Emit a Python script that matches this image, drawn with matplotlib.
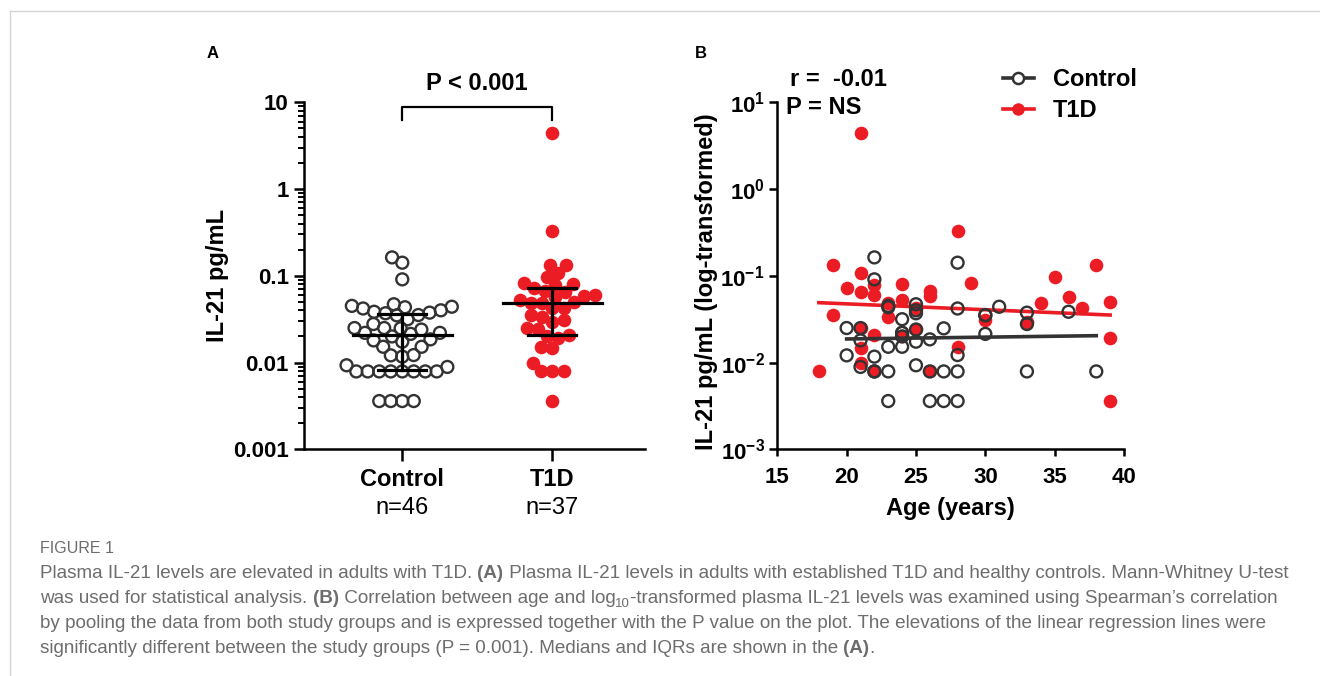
import numpy as np
import matplotlib
matplotlib.use("Agg")
import matplotlib.pyplot as plt
from matplotlib.lines import Line2D
from matplotlib.transforms import IdentityTransform

plt.rcParams['font.family'] = ['Liberation Sans', 'DejaVu Sans']
plt.rcParams['mathtext.fontset'] = 'custom'
plt.rcParams['mathtext.bf'] = 'Liberation Sans:bold'
plt.rcParams['mathtext.rm'] = 'Liberation Sans'

# --- data (age in years, IL-21 in pg/mL) ---
control_age = [20, 20, 21, 21, 21, 22, 22, 22, 22, 22,
               23, 23, 23, 23, 23, 24, 24, 24, 24, 24,
               25, 25, 25, 25, 25, 25, 26, 26, 26, 27,
               27, 27, 28, 28, 28, 28, 28, 30, 30, 30,
               31, 33, 33, 33, 36, 38]
control_il21 = [0.025, 0.0121, 0.025, 0.018, 0.0089, 0.163, 0.091, 0.0117, 0.0079, 0.0079,
                0.0434, 0.045, 0.0152, 0.0079, 0.0036, 0.0316, 0.022, 0.022, 0.020, 0.0152,
                0.047, 0.040, 0.037, 0.024, 0.0174, 0.0093, 0.0185, 0.0079, 0.0036, 0.0248,
                0.0079, 0.0036, 0.1416, 0.042, 0.0122, 0.0079, 0.0036, 0.0353, 0.035, 0.0214,
                0.044, 0.0376, 0.0278, 0.0079, 0.0385, 0.0079]

t1d_age = [18, 19, 19, 20, 21, 21, 21, 21, 21, 21,
           22, 22, 22, 22, 23, 23, 24, 24, 24, 25,
           25, 26, 26, 26, 28, 28, 29, 30, 33, 34,
           35, 36, 37, 38, 39, 39, 39]
t1d_il21 = [0.0079, 0.133, 0.0353, 0.073, 4.47, 0.108, 0.0645, 0.025, 0.0146, 0.0100,
            0.078, 0.060, 0.0207, 0.0079, 0.049, 0.0338, 0.081, 0.0525, 0.020, 0.042,
            0.0245, 0.066, 0.058, 0.0079, 0.33, 0.0152, 0.082, 0.031, 0.0296, 0.049,
            0.098, 0.0565, 0.043, 0.133, 0.050, 0.019, 0.0036]

# regression lines (end points)
fit_ctrl_age = [20, 38]
fit_ctrl_val = [0.0187, 0.0204]
fit_t1d_age = [18, 39]
fit_t1d_val = [0.049, 0.0353]

groups = ['Control', 'T1D']
group_n = ['n=46', 'n=37']
log_ticks_a = [0.001, 0.01, 0.1, 1, 10]
log_labels_a = ['0.001', '0.01', '0.1', '1', '10']
age_ticks = [15, 20, 25, 30, 35, 40]

RED = '#ec1c24'
DARK = '#333333'
W, H = 1320, 676


def swarm(ax, center, vals, spacing=10.0):
    """beeswarm x positions (data units) for values on a log axis"""
    tr = ax.transData
    ypx = tr.transform(np.column_stack([np.full(len(vals), center), vals]))[:, 1]
    px_per_unit = tr.transform((1, 1))[0] - tr.transform((0, 1))[0]
    xs = np.zeros(len(vals))
    placed = []
    for i in np.argsort(ypx):
        y = ypx[i]
        cands = [0.0]
        for (px, py) in placed:
            dy = abs(y - py)
            if dy < spacing:
                dx = np.sqrt(spacing**2 - dy**2)
                cands += [px - dx, px + dx]
        cands.sort(key=abs)
        for c in cands:
            if all((c - px)**2 + (y - py)**2 >= spacing**2 - 1e-6 for px, py in placed):
                xs[i] = c
                break
        placed.append((xs[i], y))
    return center + xs / px_per_unit


def style_axes(ax):
    for s in ['top', 'right']:
        ax.spines[s].set_visible(False)
    for s in ['left', 'bottom']:
        ax.spines[s].set_linewidth(1.8)


fig = plt.figure(figsize=(W / 100, H / 100), dpi=100)

# ---------------- panel A ----------------
ax1 = fig.add_axes([304 / W, 1 - 449.3 / H, 341 / W, 347 / H])
ax1.set_yscale('log')
ax1.set_ylim(0.001, 10)
ax1.set_xlim(-0.655, 1.618)
style_axes(ax1)

xc = swarm(ax1, 0, control_il21, spacing=11.5)
xt = swarm(ax1, 1, t1d_il21, spacing=11.5)
ax1.scatter(xc, control_il21, s=74, facecolors='none', edgecolors=DARK, linewidths=1.7, zorder=3)
ax1.scatter(xt, t1d_il21, s=96, color=RED, linewidths=0, zorder=3)

for k, vals in enumerate([control_il21, t1d_il21]):
    q1, med, q3 = np.percentile(vals, [25, 50, 75])
    ax1.plot([k - 0.33, k + 0.33], [med, med], color='k', lw=2.3, zorder=4)
    ax1.plot([k - 0.16, k + 0.16], [q1, q1], color='k', lw=2.3, zorder=4)
    ax1.plot([k - 0.16, k + 0.16], [q3, q3], color='k', lw=2.3, zorder=4)
    ax1.plot([k, k], [q1, q3], color='k', lw=2.3, zorder=4)

ax1.set_yticks(log_ticks_a)
ax1.set_yticklabels(log_labels_a, fontweight='bold')
ax1.tick_params(axis='y', which='major', length=7, width=1.8, labelsize=16, pad=4)
ax1.tick_params(axis='y', which='minor', length=4, width=1.4)
ax1.set_xticks([0, 1])
ax1.set_xticklabels([])
ax1.tick_params(axis='x', length=8.5, width=1.8)
for k in range(2):
    ax1.text(k, -0.088, groups[k], transform=ax1.get_xaxis_transform(),
             ha='center', va='center', fontsize=17, fontweight='bold')
    ax1.text(k, -0.169, group_n[k], transform=ax1.get_xaxis_transform(),
             ha='center', va='center', fontsize=17)
ax1.set_ylabel('IL-21 pg/mL', fontsize=17, fontweight='bold')
ax1.yaxis.set_label_coords(-0.22, 0.5)

# significance bracket
ax1.plot([0, 0, 1, 1], [6.25, 8.9, 8.9, 6.25], color='k', lw=1.6, clip_on=False)
ax1.text(0.5, 16.6, 'P < 0.001', ha='center', va='center', fontsize=17, fontweight='bold')

# ---------------- panel B ----------------
ax2 = fig.add_axes([777.3 / W, 1 - 449.3 / H, 346.7 / W, 347 / H])
ax2.set_yscale('log')
ax2.set_ylim(0.001, 10)
ax2.set_xlim(15, 40)
style_axes(ax2)

ax2.scatter(t1d_age, t1d_il21, s=96, color=RED, linewidths=0, zorder=2)
ax2.plot(fit_t1d_age, fit_t1d_val, color=RED, lw=2.6, zorder=3)
ax2.scatter(control_age, control_il21, s=74, facecolors='none', edgecolors=DARK, linewidths=1.7, zorder=4)
ax2.plot(fit_ctrl_age, fit_ctrl_val, color=DARK, lw=2.6, zorder=5)

ax2.set_yticks(log_ticks_a)
ax2.set_yticklabels([r'$\mathbf{10^{%d}}$' % e for e in range(-3, 2)])
ax2.yaxis.set_minor_locator(matplotlib.ticker.NullLocator())
ax2.tick_params(axis='y', length=6, width=1.8, labelsize=16, pad=3)
ax2.set_xticks(age_ticks)
ax2.set_xticklabels([str(a) for a in age_ticks], fontweight='bold')
ax2.tick_params(axis='x', length=5, width=1.8, labelsize=16, pad=8)
ax2.set_xlabel('Age (years)', fontsize=17, fontweight='bold', labelpad=6)
ax2.set_ylabel('IL-21 pg/mL (log-transformed)', fontsize=17, fontweight='bold')
ax2.yaxis.set_label_coords(-0.171, 0.483)

fig.text(790 / W, 1 - 79 / H, 'r =  -0.01', ha='left', va='center', fontsize=17, fontweight='bold')
fig.text(785.7 / W, 1 - 107.7 / H, 'P = NS', ha='left', va='center', fontsize=17, fontweight='bold')

handles = [Line2D([], [], color=DARK, lw=2.6, marker='o', mfc='white', mec=DARK, mew=1.8, ms=8),
           Line2D([], [], color=RED, lw=2.6, marker='o', mfc=RED, mec=RED, ms=8)]
ax2.legend(handles, groups, loc='upper left', bbox_to_anchor=(1003 / W, 1 - 68 / H),
           bbox_transform=fig.transFigure, frameon=False, borderpad=0, borderaxespad=0,
           handlelength=1.3, handletextpad=0.8, labelspacing=0.35,
           prop={'weight': 'bold', 'size': 17})

# panel letters
fig.text(213 / W, 1 - 53 / H, 'A', ha='center', va='center', fontsize=12, fontweight='bold')
fig.text(701 / W, 1 - 53 / H, 'B', ha='center', va='center', fontsize=12, fontweight='bold')

# page frame
fig.add_artist(Line2D([9.5 / W, 9.5 / W], [0, 1 - 11 / H], transform=fig.transFigure, color='#d4d4d4', lw=1))
fig.add_artist(Line2D([9.5 / W, 1], [1 - 11 / H, 1 - 11 / H], transform=fig.transFigure, color='#d4d4d4', lw=1))

# ---------------- caption ----------------
CAP = '#6d6d6d'
CAP_FONT = ['Liberation Sans', 'DejaVu Sans']
caption = [
    [("Plasma IL-21 levels are elevated in adults with T1D. ", 'n'), ("(A)", 'b'),
     (" Plasma IL-21 levels in adults with established T1D and healthy controls. Mann-Whitney U-test", 'n')],
    [("was used for statistical analysis. ", 'n'), ("(B)", 'b'), (" Correlation between age and log", 'n'),
     ("10", 's'), ("-transformed plasma IL-21 levels was examined using Spearman\u2019s correlation", 'n')],
    [("by pooling the data from both study groups and is expressed together with the P value on the plot. "
      "The elevations of the linear regression lines were", 'n')],
    [("significantly different between the study groups (P = 0.001). Medians and IQRs are shown in the ", 'n'),
     ("(A)", 'b'), (".", 'n')],
]
baselines = [578, 603, 628, 653]

renderer = fig.canvas.get_renderer()


def draw_line(x, y, segs, size):
    arts = []
    for txt, kind in segs:
        kw = dict(transform=IdentityTransform(), ha='left', va='baseline', color=CAP, family=CAP_FONT)
        if kind == 's':
            t = fig.text(x, H - y - 4, txt, fontsize=size * 0.7, **kw)
        else:
            t = fig.text(x, H - y, txt, fontsize=size, fontweight='bold' if kind == 'b' else 'normal', **kw)
        x = t.get_window_extent(renderer).x1
        arts.append(t)
    return x, arts


# fit caption size so the first (longest) line ends where it does in the figure
end1, probe = draw_line(40, 0, caption[0], 10)
cap_size = 10 * 1255 / (end1 - 40)
for t in probe:
    t.remove()

fig.text(40, H - 553, 'FIGURE 1', transform=IdentityTransform(), ha='left', va='baseline',
         color=CAP, fontsize=cap_size * 0.85, family=CAP_FONT)
for segs, yb in zip(caption, baselines):
    draw_line(40, yb, segs, cap_size)

fig.savefig('out.png', dpi=100)
